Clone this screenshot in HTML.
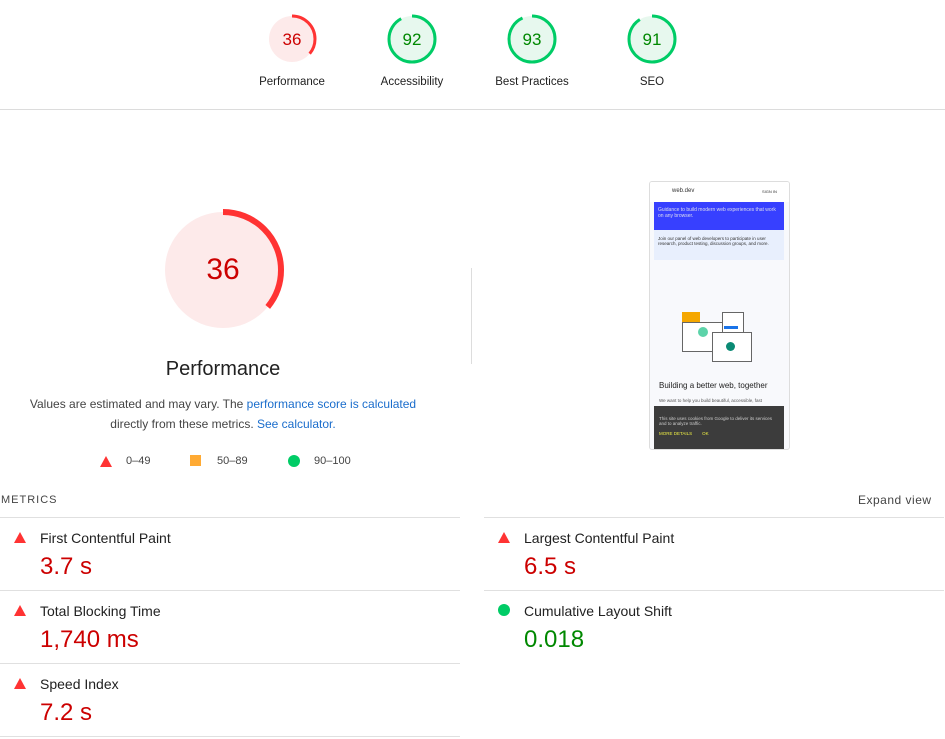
<!DOCTYPE html>
<html><head><style>
body{margin:0;width:945px;height:739px;background:#fff;font-family:"Liberation Sans",Arial,sans-serif;position:relative;overflow:hidden;color:#212121}
.a{position:absolute}
.lbl{position:absolute;font-size:11.5px;color:#212121;text-align:center;width:120px}
.sep{position:absolute;height:1px;background:#e0e0e0}
.mt{position:absolute;font-size:14px;color:#212121}
.mv{position:absolute;font-size:24px;color:#c00}
.tri{position:absolute;width:0;height:0;border-left:6px solid transparent;border-right:6px solid transparent;border-bottom:11px solid #f33}
</style></head><body>
<svg class="a" style="left:0;top:0" width="945" height="110">
<g font-family="Liberation Sans,Arial" font-size="17" text-anchor="middle">
<circle cx="292" cy="39" r="23" fill="#fdeaea"/>
<circle cx="292" cy="39" r="23" fill="none" stroke="#f33" stroke-width="3" stroke-dasharray="52 200" transform="rotate(-90 292 39)"/>
<text x="292" y="45" fill="#c00">36</text>
<circle cx="412" cy="39" r="23" fill="#e7f8ee"/>
<circle cx="412" cy="39" r="23" fill="none" stroke="#0c6" stroke-width="3" stroke-dasharray="133 200" transform="rotate(-90 412 39)"/>
<text x="412" y="45" fill="#080">92</text>
<circle cx="532" cy="39" r="23" fill="#e7f8ee"/>
<circle cx="532" cy="39" r="23" fill="none" stroke="#0c6" stroke-width="3" stroke-dasharray="134.5 200" transform="rotate(-90 532 39)"/>
<text x="532" y="45" fill="#080">93</text>
<circle cx="652" cy="39" r="23" fill="#e7f8ee"/>
<circle cx="652" cy="39" r="23" fill="none" stroke="#0c6" stroke-width="3" stroke-dasharray="131.5 200" transform="rotate(-90 652 39)"/>
<text x="652" y="45" fill="#080">91</text>
</g></svg>
<div class="lbl" style="left:232px;top:76px">Performance</div>
<div class="lbl" style="left:352px;top:76px">Accessibility</div>
<div class="lbl" style="left:472px;top:76px">Best Practices</div>
<div class="lbl" style="left:592px;top:76px">SEO</div>
<div class="sep" style="left:0;top:109px;width:945px;background:#dcdcdc"></div>

<svg class="a" style="left:150px;top:200px" width="150" height="150">
<circle cx="73" cy="70" r="58" fill="#fdeaea"/>
<circle cx="73" cy="70" r="58" fill="none" stroke="#f33" stroke-width="6" stroke-dasharray="131 400" transform="rotate(-90 73 70)"/>
<text x="73" y="79" text-anchor="middle" font-family="Liberation Sans,Arial" font-size="30" fill="#c00">36</text>
</svg>
<div class="a" style="left:123px;top:358px;width:200px;text-align:center;font-size:20px">Performance</div>
<div class="a" style="left:0;top:394px;width:446px;text-align:center;font-size:12px;line-height:20px;color:#444">Values are estimated and may vary. The <span style="color:#1a6dcc">performance score is calculated</span><br>directly from these metrics. <span style="color:#1a6dcc">See calculator.</span></div>
<div class="tri" style="left:100px;top:456px"></div><div class="a" style="left:126px;top:455px;font-size:11px;color:#444">0–49</div>
<div class="a" style="left:190px;top:455px;width:11px;height:11px;background:#fa3"></div><div class="a" style="left:217px;top:455px;font-size:11px;color:#444">50–89</div>
<div class="a" style="left:288px;top:455px;width:12px;height:12px;border-radius:50%;background:#0c6"></div><div class="a" style="left:314px;top:455px;font-size:11px;color:#444">90–100</div>

<div class="a" style="left:471px;top:268px;width:1px;height:96px;background:#ddd"></div>

<div class="a" style="left:649px;top:181px;width:139px;height:267px;border:1px solid #ddd;border-radius:3px;background:#f8f9fc;overflow:hidden">
 <div class="a" style="left:0;top:0;width:139px;height:20px;background:#fff;font-size:6px;color:#333"><span class="a" style="left:22px;top:6px">web.dev</span><span class="a" style="left:112px;top:7px;font-size:4px">SIGN IN</span></div>
 <div class="a" style="left:4px;top:20px;width:130px;height:28px;background:#3740ff;color:#dde;font-size:5px;padding:5px 4px;box-sizing:border-box">Guidance to build modern web experiences that work on any browser.</div>
 <div class="a" style="left:4px;top:48px;width:130px;height:30px;background:#e8effd;font-size:4.5px;padding:6px 4px;box-sizing:border-box;color:#333">Join our panel of web developers to participate in user research, product testing, discussion groups, and more.</div>
 <div class="a" style="left:32px;top:130px;width:18px;height:10px;background:#f5a700"></div>
 <div class="a" style="left:32px;top:140px;width:40px;height:28px;border:1px solid #666;background:#fff"></div>
 <div class="a" style="left:48px;top:145px;width:10px;height:10px;border-radius:50%;background:#5cd3a9"></div>
 <div class="a" style="left:72px;top:130px;width:20px;height:22px;border:1px solid #666;background:#fff"></div>
 <div class="a" style="left:74px;top:144px;width:14px;height:3px;background:#1a73e8"></div>
 <div class="a" style="left:62px;top:150px;width:38px;height:28px;border:1px solid #666;background:#fff"></div>
 <div class="a" style="left:76px;top:160px;width:9px;height:9px;border-radius:50%;background:#0a8a74"></div>
 <div class="a" style="left:9px;top:199px;font-size:8px;color:#222">Building a better web, together</div>
 <div class="a" style="left:9px;top:216px;font-size:4.5px;color:#555">We want to help you build beautiful, accessible, fast</div>
 <div class="a" style="left:4px;top:224px;width:130px;height:43px;background:#3c3c3c;font-size:4.5px;color:#ccc;padding:10px 5px;box-sizing:border-box">This site uses cookies from Google to deliver its services and to analyze traffic.<br><br><span style="color:#ee4">MORE DETAILS &nbsp;&nbsp;&nbsp;&nbsp;&nbsp;&nbsp; OK</span></div>
</div>

<div class="a" style="left:1px;top:494px;font-size:11px;letter-spacing:1px;color:#444">METRICS</div>
<div class="a" style="left:858px;top:493px;font-size:12px;letter-spacing:.5px;color:#444">Expand view</div>

<div class="sep" style="left:0;top:517px;width:460px"></div>
<div class="sep" style="left:484px;top:517px;width:460px"></div>
<div class="sep" style="left:0;top:590px;width:460px"></div>
<div class="sep" style="left:484px;top:590px;width:460px"></div>
<div class="sep" style="left:0;top:663px;width:460px"></div>
<div class="sep" style="left:0;top:736px;width:460px"></div>

<div class="tri" style="left:14px;top:532px"></div><div class="mt" style="left:40px;top:530px">First Contentful Paint</div><div class="mv" style="left:40px;top:553px">3.7 s</div>
<div class="tri" style="left:14px;top:605px"></div><div class="mt" style="left:40px;top:603px">Total Blocking Time</div><div class="mv" style="left:40px;top:626px">1,740 ms</div>
<div class="tri" style="left:14px;top:678px"></div><div class="mt" style="left:40px;top:676px">Speed Index</div><div class="mv" style="left:40px;top:699px">7.2 s</div>
<div class="tri" style="left:498px;top:532px"></div><div class="mt" style="left:524px;top:530px">Largest Contentful Paint</div><div class="mv" style="left:524px;top:553px">6.5 s</div>
<div class="a" style="left:498px;top:604px;width:12px;height:12px;border-radius:50%;background:#0c6"></div><div class="mt" style="left:524px;top:603px">Cumulative Layout Shift</div><div class="mv" style="left:524px;top:626px;color:#080">0.018</div>
</body></html>
